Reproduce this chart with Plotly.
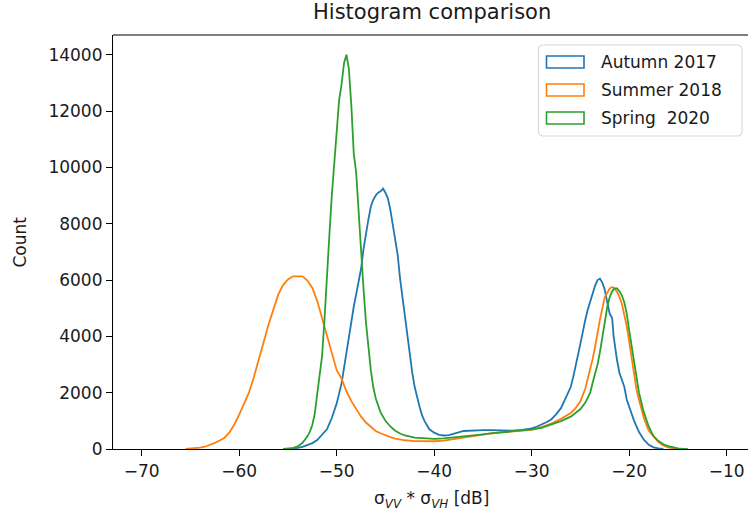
import plotly.graph_objects as go

# ---------------- data ----------------
autumn_x = [-55.0, -54.5, -54.0, -53.5, -53.0, -52.5, -52.0, -51.5, -51.0, -50.5,
            -50.0, -49.5, -49.25, -49.0, -48.75, -48.5, -48.25, -48.0, -47.75, -47.5,
            -47.25, -47.0, -46.75, -46.5, -46.25, -46.0, -45.75, -45.5, -45.25, -45.0,
            -44.75, -44.5, -44.25, -44.0, -43.75, -43.5, -43.25, -43.0, -42.75, -42.5,
            -42.25, -42.0, -41.75, -41.5, -41.25, -41.0, -40.5, -40.0, -39.5, -39.0,
            -38.5, -38.0, -37.5, -37.0, -36.5, -36.0, -35.0, -34.0, -33.0, -32.0,
            -31.0, -30.0, -29.5, -29.0, -28.5, -28.0, -27.5, -27.0, -26.5, -26.0,
            -25.75, -25.5, -25.25, -25.0, -24.75, -24.5, -24.25, -24.0, -23.75, -23.5,
            -23.25, -23.0, -22.75, -22.5, -22.25, -22.0, -21.75, -21.6, -21.25, -21.0,
            -20.75, -20.5, -20.25, -20.0, -19.5, -19.0, -18.5, -18.0, -17.5, -17.0, -16.5]
autumn_y = [0, 15, 40, 75, 130, 210, 320, 500, 700, 1100,
            1620, 2330, 2900, 3500, 4000, 4600, 5050, 5500, 5950, 6400,
            7100, 7700, 8150, 8600, 8850, 9000, 9100, 9150, 9250, 9100,
            8900, 8500, 7950, 7500, 6900, 6050, 5350, 4600, 3900, 3300,
            2700, 2200, 1800, 1500, 1200, 1000, 700, 580, 500, 480,
            490, 530, 590, 640, 650, 660, 670, 670, 660, 650,
            680, 730, 790, 860, 950, 1050, 1230, 1450, 1800, 2200,
            2550, 2900, 3350, 3750, 4200, 4600, 4950, 5250, 5550, 5800,
            6000, 6050, 5900, 5650, 5200, 4800, 4650, 4000, 3150, 2700,
            2450, 2200, 1750, 1500, 1000, 600, 330, 150, 60, 20, 0]

summer_x = [-65.5, -65.0, -64.5, -64.0, -63.5, -63.0, -62.5, -62.0, -61.5, -61.0,
            -60.5, -60.0, -59.5, -59.0, -58.5, -58.0, -57.5, -57.0, -56.5, -56.0,
            -55.5, -55.0, -54.5, -54.0, -53.5, -53.0, -52.5, -52.0, -51.5, -51.0,
            -50.5, -50.0, -49.5, -49.0, -48.5, -48.0, -47.5, -47.0, -46.5, -46.0,
            -45.5, -45.0, -44.5, -44.0, -43.0, -42.0, -41.0, -40.0, -39.0, -38.0,
            -37.0, -36.0, -35.0, -34.0, -33.0, -32.0, -31.0, -30.0, -29.0, -28.0,
            -27.0, -26.5, -26.0, -25.5, -25.0, -24.5, -24.0, -23.75, -23.5, -23.25,
            -23.0, -22.75, -22.5, -22.25, -22.0, -21.75, -21.5, -21.25, -21.0, -20.75,
            -20.5, -20.25, -20.0, -19.75, -19.5, -19.25, -19.0, -18.75, -18.5, -18.0,
            -17.5, -17.0, -16.5, -16.0, -15.5, -15.0]
summer_y = [0, 10, 30, 50, 80, 140, 220, 300, 400, 590,
            870, 1220, 1600, 2000, 2550, 3130, 3780, 4400, 4980, 5480,
            5820, 6020, 6130, 6120, 6130, 5980, 5720, 5260, 4650, 3990,
            3390, 2800, 2500, 2050, 1700, 1400, 1150, 940, 780, 640,
            560, 480, 420, 370, 310, 280, 265, 275, 300, 350,
            410, 470, 520, 560, 590, 620, 640, 680, 780, 900,
            1070, 1170, 1280, 1450, 1700, 2150, 2800, 3200, 3630, 4150,
            4600, 5000, 5400, 5550, 5700, 5750, 5700, 5580, 5400, 5150,
            4800, 4350, 3800, 3200, 2650, 2100, 1750, 1400, 1100, 650,
            430, 250, 130, 60, 20, 0]

spring_x = [-55.5, -55.0, -54.5, -54.0, -53.5, -53.0, -52.75, -52.5, -52.25, -52.0,
            -51.75, -51.5, -51.25, -51.0, -50.75, -50.5, -50.25, -50.0, -49.75, -49.5,
            -49.25, -49.0, -48.75, -48.5, -48.25, -48.0, -47.75, -47.5, -47.25, -47.0,
            -46.75, -46.5, -46.25, -46.0, -45.5, -45.0, -44.5, -44.0, -43.5, -43.0,
            -42.0, -41.0, -40.0, -39.0, -38.0, -37.0, -36.0, -35.0, -34.0, -33.0,
            -32.0, -31.0, -30.0, -29.0, -28.0, -27.0, -26.0, -25.5, -25.0, -24.5,
            -24.0, -23.75, -23.5, -23.25, -23.0, -22.75, -22.5, -22.25, -22.0, -21.75,
            -21.5, -21.25, -21.0, -20.75, -20.5, -20.25, -20.0, -19.75, -19.5, -19.25,
            -19.0, -18.75, -18.5, -18.0, -17.5, -17.0, -16.5, -16.0, -15.5, -15.0,
            -14.5, -14.0]
spring_y = [0, 10, 30, 90, 220, 450, 620, 850, 1250, 1950,
            2600, 3300, 4600, 5900, 7600, 9000, 10200, 11500, 12400, 12950,
            13700, 14000, 13500, 12200, 10500, 9800, 8300, 6900, 5700, 4500,
            3600, 2800, 2200, 1800, 1300, 1000, 800, 650, 550, 480,
            400, 370, 360, 380, 410, 440, 480, 520, 560, 590,
            620, 660, 700, 750, 870, 990, 1150, 1300, 1420, 1650,
            2000, 2350, 2650, 3000, 3450, 4000, 4550, 5050, 5400, 5600,
            5700, 5700, 5600, 5450, 5200, 4800, 4200, 3650, 3000, 2450,
            2000, 1650, 1300, 800, 450, 280, 170, 100, 50, 20,
            5, 0]

series_names = ["Autumn 2017", "Summer 2018", "Spring\u00a0 2020"]
series_colors = ["#1f77b4", "#ff7f0e", "#2ca02c"]
x_ticks = [-70, -60, -50, -40, -30, -20, -10]
x_tick_labels = ["\u221270", "\u221260", "\u221250", "\u221240", "\u221230", "\u221220", "\u221210"]
y_ticks = [0, 2000, 4000, 6000, 8000, 10000, 12000, 14000]
y_tick_labels = ["0", "2000", "4000", "6000", "8000", "10000", "12000", "14000"]
title_text = "Histogram comparison"
x_label = "\u03c3<sub><i>VV</i></sub> * \u03c3<sub><i>VH</i></sub> [dB]"
y_label = "Count"

# ---------------- layout geometry (pixels) ----------------
W, H = 748, 518
L, R, T, B = 113, 748, 35, 449
FONT = "DejaVu Sans"
TXT = "#1a1a1a"


def px(xp):
    return (xp - L) / (R - L)


def py(yp):
    return (B - yp) / (B - T)


fig = go.Figure()
for xs, ys, name, col in zip([autumn_x, summer_x, spring_x],
                             [autumn_y, summer_y, spring_y],
                             series_names, series_colors):
    fig.add_trace(go.Scatter(x=xs, y=ys, mode="lines", name=name,
                             line=dict(color=col, width=1.8, shape="linear"),
                             showlegend=False, hoverinfo="skip"))

shapes = []
# top spine
shapes.append(dict(type="line", xref="paper", yref="paper", x0=0, x1=1, y0=1, y1=1,
                   line=dict(color="#000000", width=1.2)))

# legend frame (rounded)
lx0, lx1, ly0, ly1, rad = 538.5, 742.0, 45.0, 136.0, 4.0
rx = rad / (R - L)
ry = rad / (B - T)
X0, X1, Y0, Y1 = px(lx0), px(lx1), py(ly1), py(ly0)
path = (f"M {X0+rx},{Y0} L {X1-rx},{Y0} Q {X1},{Y0} {X1},{Y0+ry} "
        f"L {X1},{Y1-ry} Q {X1},{Y1} {X1-rx},{Y1} L {X0+rx},{Y1} "
        f"Q {X0},{Y1} {X0},{Y1-ry} L {X0},{Y0+ry} Q {X0},{Y0} {X0+rx},{Y0} Z")
shapes.append(dict(type="path", xref="paper", yref="paper", path=path,
                   fillcolor="rgba(255,255,255,0.8)",
                   line=dict(color="#d5d5d5", width=1)))

annotations = []
row_centers = [62, 90, 118]
for name, col, rc in zip(series_names, series_colors, row_centers):
    shapes.append(dict(type="rect", xref="paper", yref="paper",
                       x0=px(546.5), x1=px(584), y0=py(rc + 6), y1=py(rc - 6),
                       line=dict(color=col, width=1.6), fillcolor="rgba(0,0,0,0)"))
    annotations.append(dict(text=name, xref="paper", yref="paper", x=px(598.5), y=py(rc),
                            xanchor="left", yanchor="middle", showarrow=False,
                            font=dict(family=FONT, size=17, color=TXT)))

# title and axis labels
annotations.append(dict(text=title_text, xref="paper", yref="paper", x=px(432), y=py(12),
                        xanchor="center", yanchor="middle", showarrow=False,
                        font=dict(family=FONT, size=21, color=TXT)))
annotations.append(dict(text=x_label, xref="paper", yref="paper", x=px(432), y=py(499),
                        xanchor="center", yanchor="middle", showarrow=False,
                        font=dict(family=FONT, size=17, color=TXT)))
annotations.append(dict(text=y_label, xref="paper", yref="paper", x=px(19.5), y=py(242),
                        xanchor="center", yanchor="middle", showarrow=False, textangle=-90,
                        font=dict(family=FONT, size=17, color=TXT)))

fig.update_layout(
    width=W, height=H,
    margin=dict(l=L, r=W - R, t=T, b=H - B, pad=0),
    paper_bgcolor="white", plot_bgcolor="white",
    font=dict(family=FONT, size=17, color=TXT),
    shapes=shapes, annotations=annotations,
    showlegend=False,
)
fig.update_xaxes(range=[-72.94, -7.82], tickvals=x_ticks, ticktext=x_tick_labels,
                 ticks="outside", ticklen=6, tickwidth=1.2, tickcolor="#000000",
                 showline=True, linecolor="#000000", linewidth=1.2, mirror=False,
                 showgrid=False, zeroline=False,
                 tickfont=dict(family=FONT, size=17, color=TXT))
fig.update_yaxes(range=[0, 14700], tickvals=y_ticks, ticktext=y_tick_labels,
                 ticks="outside", ticklen=6, tickwidth=1.2, tickcolor="#000000",
                 showline=True, linecolor="#000000", linewidth=1.2, mirror=False,
                 showgrid=False, zeroline=False,
                 tickfont=dict(family=FONT, size=17, color=TXT))

fig.write_html("out.html")
